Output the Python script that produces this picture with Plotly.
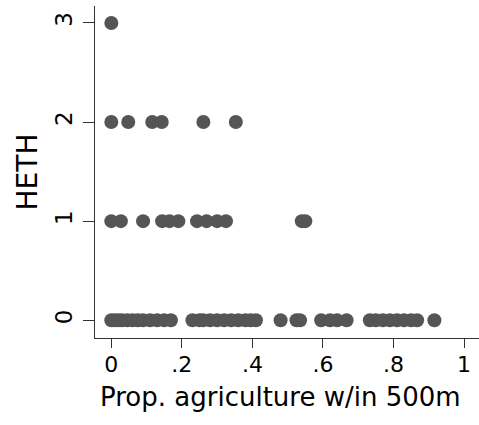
import plotly.graph_objects as go

# Prop. agriculture within 500m, grouped by HETH value
heth0_x = [0, 0.01, 0.02, 0.03, 0.045, 0.06, 0.075, 0.09, 0.11, 0.13, 0.15, 0.169,
           0.23, 0.25, 0.26, 0.28, 0.30, 0.32, 0.34, 0.36, 0.38, 0.395, 0.41,
           0.48, 0.525, 0.535,
           0.595, 0.62, 0.64, 0.667,
           0.733, 0.75, 0.77, 0.79, 0.81, 0.83, 0.85, 0.867,
           0.916]
heth1_x = [0, 0.027, 0.09, 0.144, 0.165, 0.19, 0.243, 0.27, 0.30, 0.325, 0.54, 0.55]
heth2_x = [0, 0.048, 0.116, 0.143, 0.261, 0.353]
heth3_x = [0]

xs = heth0_x + heth1_x + heth2_x + heth3_x
ys = [0] * len(heth0_x) + [1] * len(heth1_x) + [2] * len(heth2_x) + [3] * len(heth3_x)

x_tickvals = [0, 0.2, 0.4, 0.6, 0.8, 1]
x_ticktext = ["0", ".2", ".4", ".6", ".8", "1"]
y_tickvals = [0, 1, 2, 3]
y_ticktext = ["0", "1", "2", "3"]
x_title = "Prop. agriculture w/in 500m"
y_title = "HETH"

FONT = "DejaVu Sans, Liberation Sans, Arial, sans-serif"

fig = go.Figure(go.Scatter(
    x=xs, y=ys, mode="markers",
    marker=dict(size=14, color="#555555", line=dict(width=0)),
    hoverinfo="skip", cliponaxis=False,
))

fig.update_layout(
    width=479, height=425,
    margin=dict(l=95, r=0, t=6, b=87),
    paper_bgcolor="white", plot_bgcolor="white",
    font=dict(family=FONT, color="black", size=22),
    showlegend=False,
    xaxis=dict(
        range=[-0.0463, 1.0425], tickvals=x_tickvals, ticktext=x_ticktext,
        showgrid=False, zeroline=False, showline=True, linecolor="#333333", linewidth=1,
        ticks="outside", ticklen=9, tickcolor="#333333", tickwidth=1,
        tickfont=dict(size=22), ticklabelstandoff=-2,
    ),
    yaxis=dict(
        range=[-0.179, 3.171], tickvals=y_tickvals, ticktext=y_ticktext,
        showgrid=False, zeroline=False, showline=True, linecolor="#333333", linewidth=1,
        ticks="outside", ticklen=11, tickcolor="#333333", tickwidth=1,
        tickangle=-90, tickfont=dict(size=23), ticklabelstandoff=2,
        title=dict(text=y_title, font=dict(size=28), standoff=4),
    ),
    annotations=[dict(
        text=x_title, xref="paper", yref="paper", x=0.484, y=-0.178,
        xanchor="center", yanchor="middle", showarrow=False,
        font=dict(size=26),
    )],
)

fig.write_html("out.html", config={"displayModeBar": False},
               post_script="document.body.style.margin='0';")
